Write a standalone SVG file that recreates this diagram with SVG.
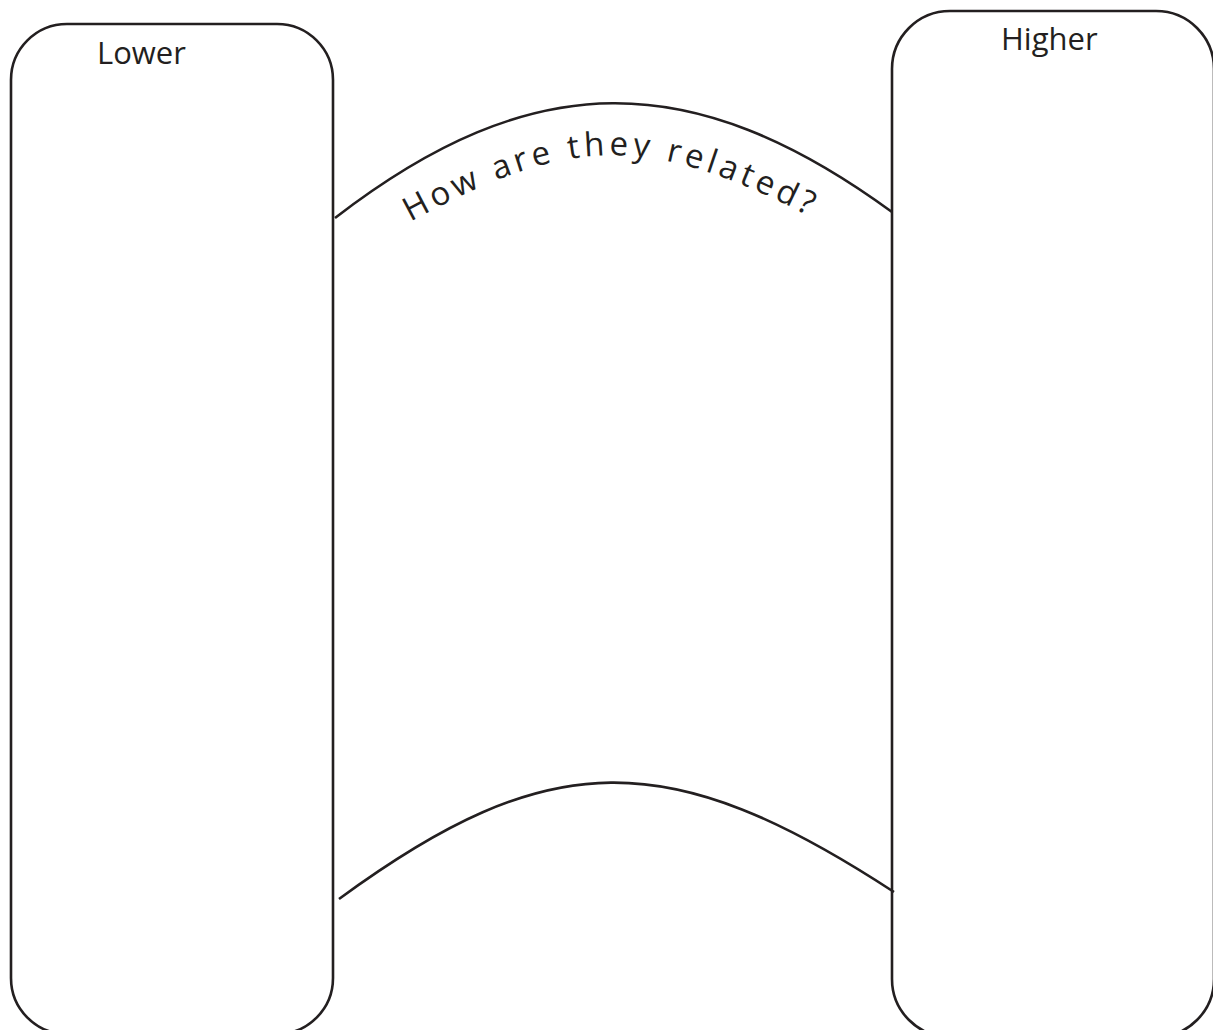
<svg xmlns="http://www.w3.org/2000/svg" width="1213" height="1030" viewBox="0 0 1213 1030">
<style>
.box{fill:#fff;stroke:#231f20;stroke-width:2.6}
.arc{fill:none;stroke:#231f20;stroke-width:2.6}
.lbl{font-family:"Open Sans","Noto Sans",sans-serif;font-size:31px;fill:#231f20}
.curved{font-family:"Open Sans","Noto Sans",sans-serif;font-size:33px;fill:#231f20;letter-spacing:4.3px}
</style>
<defs>
<path id="textArc" d="M410,222 C576,132 652,132 832,228"/>
</defs>
<rect width="1213" height="1030" fill="#fff"/>
<g id="lower">
<rect class="box" x="11" y="24" width="322" height="1010" rx="56" ry="56"/>
<text class="lbl" x="97" y="64">Lower</text>
</g>
<g id="higher">
<rect class="box" x="892" y="11" width="322" height="1026" rx="58" ry="58"/>
<text class="lbl" x="1001" y="50">Higher</text>
</g>
<g id="connectors">
<path class="arc" d="M335,218 C532,66 692,66 892,212"/>
<path class="arc" d="M339,899 C549,745 669,745 894,892"/>
<text class="curved"><textPath href="#textArc" startOffset="0">How are they related?</textPath></text>
</g>
</svg>
